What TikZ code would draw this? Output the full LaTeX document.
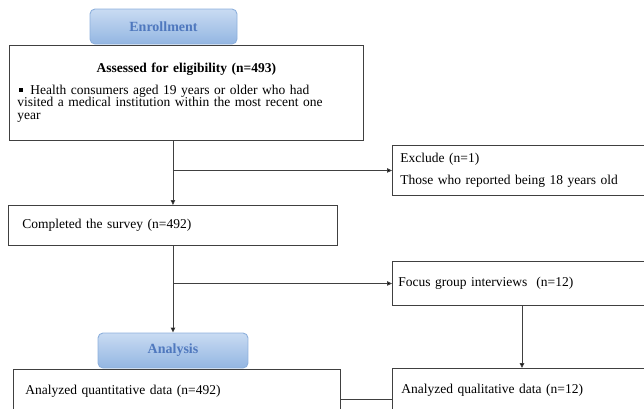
\documentclass[tikz,border=0pt]{standalone}
\usepackage{fontspec}
\setmainfont{Liberation Serif}
\usetikzlibrary{arrows.meta}
\definecolor{stagetop}{HTML}{C9DBF2}
\definecolor{stagebot}{HTML}{93B6E2}
\definecolor{stageedge}{HTML}{8DB0DC}
\definecolor{stagetext}{HTML}{4F78BE}
\definecolor{boxedge}{HTML}{404040}
\begin{document}
\begin{tikzpicture}[x=1pt,y=-1pt,line width=0.9pt,
    font=\fontsize{13.5}{12.9}\selectfont,
    stage box/.style={rectangle,rounded corners=5pt,draw=stageedge,top color=stagetop,bottom color=stagebot,
        text=stagetext,font=\fontsize{14}{12.9}\selectfont\bfseries,minimum width=147,minimum height=35},
    flow box/.style={rectangle,draw=boxedge,fill=white,anchor=north west,align=left,inner ysep=0},
    flow arrow/.style={-{Triangle[length=5pt,width=4.5pt]}}]
                \useasboundingbox (0,0) rectangle (644,408);

                \node[stage box] at (163.5, 26.5) (enroll) {Enrollment};
                \node[flow box, minimum width=354, minimum height=95, text width=338, inner xsep=8] at (9, 45) (assessed)
                    {{\centering\textbf{Assessed for eligibility (n=493)}\par}\vspace{8.5pt}%
                     \hspace*{2pt}\raisebox{2.5pt}{\rule{4pt}{4pt}}\hspace{7pt}Health consumers aged 19 years or older who had\\
                     visited a medical institution within the most recent one\\
                     year};
                \node[flow box, minimum width=260, minimum height=50, text width=244, inner xsep=8] at (392, 145) (exclude)
                    {Exclude (n=1)\\[9.2pt]Those who reported being 18 years old};
                \node[flow box, minimum width=329, minimum height=40, text width=301, inner xsep=14] at (8, 205) (completed)
                    {Completed the survey (n=492)};
                \node[flow box, minimum width=260, minimum height=44, text width=248, inner xsep=6] at (392, 261) (focus)
                    {Focus group interviews \ (n=12)};
                \node[stage box, minimum width=150] at (173, 350.5) (analysis) {Analysis};
                \node[flow box, minimum width=327, minimum height=44, text width=303, inner xsep=12] at (13, 369) (quantitative)
                    {Analyzed quantitative data (n=492)};
                \node[flow box, minimum width=260, minimum height=44, text width=242, inner xsep=9] at (392, 368) (qualitative)
                    {Analyzed qualitative data (n=12)};

                \coordinate (qualx) at (522, 0);
                \coordinate (linky) at (0, 399);

                \path[draw=boxedge]
                    (completed.north |- assessed.south) edge[flow arrow] (completed.north)
                    (completed.north |- exclude.west) edge[flow arrow] (exclude.west)
                    (analysis.north |- completed.south) edge[flow arrow] (analysis.north)
                    (analysis.north |- focus.west) edge[flow arrow] (focus.west)
                    (focus.south -| qualx) edge[flow arrow] (qualitative.north -| qualx)
                    (quantitative.east |- linky) edge (qualitative.west |- linky)
                    ;
            \end{tikzpicture}
\end{document}
